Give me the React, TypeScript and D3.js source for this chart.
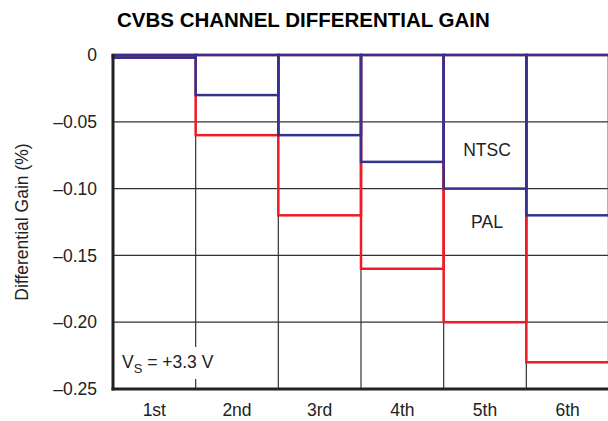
import React from "react";
import * as d3 from "d3";

const categories = ["1st", "2nd", "3rd", "4th", "5th", "6th"];
const ntscValues = [-0.002, -0.03, -0.06, -0.08, -0.1, -0.12];
const palValues = [-0.002, -0.06, -0.12, -0.16, -0.2, -0.23];
const yTicks = [0, -0.05, -0.1, -0.15, -0.2, -0.25];
const yTickLabels = ["0", "–0.05", "–0.10", "–0.15", "–0.20", "–0.25"];

const W = 608;
const H = 421;
const left = 113;
const right = 609;
const top = 55;
const bottom = 389;
const BLUE = "#35318f";
const RED = "#ee1c25";
const FONT = "'Liberation Sans', Arial, Helvetica, sans-serif";
const FS = 17.5;

export default function App() {
  const x = d3.scaleBand<string>().domain(categories).range([left, right]).padding(0);
  const y = d3.scaleLinear().domain([-0.25, 0]).range([bottom, top]);
  const bw = x.bandwidth();

  const bars = (vals: number[], color: string) =>
    categories.map((c, i) => (
      <rect
        key={c}
        x={x(c)!}
        y={y(0)}
        width={bw}
        height={y(vals[i]) - y(0)}
        fill="none"
        stroke={color}
        strokeWidth={2.5}
      />
    ));

  return (
    <svg
      width={W}
      height={H}
      style={{ position: "absolute", left: 0, top: 0, background: "#fff" }}
      fontFamily={FONT}
    >
      <rect x={0} y={0} width={W} height={H} fill="#fff" />
      <text x={117} y={27} fontSize={20.5} fontWeight="bold" fill="#000">
        CVBS CHANNEL DIFFERENTIAL GAIN
      </text>
      {/* grid */}
      {yTicks.slice(1, -1).map((t) => (
        <line key={t} x1={left} x2={W} y1={y(t)} y2={y(t)} stroke="#333" strokeWidth={1.2} />
      ))}
      {categories.slice(1).map((c) => (
        <line key={c} x1={x(c)!} x2={x(c)!} y1={top} y2={bottom} stroke="#333" strokeWidth={1.2} />
      ))}
      {/* V_S label background */}
      <rect x={118} y={347} width={106} height={32} fill="#fff" />
      <text x={122} y={368} fontSize={FS} fill="#222">
        V<tspan fontSize={13} dy={5}>S</tspan>
        <tspan dy={-5}> = +3.3 V</tspan>
      </text>
      {bars(palValues, RED)}
      {bars(ntscValues, BLUE)}
      {/* axes */}
      <line x1={left} x2={left} y1={top - 1} y2={bottom + 1.5} stroke="#222" strokeWidth={3} />
      <line x1={left - 1.5} x2={W} y1={bottom} y2={bottom} stroke="#222" strokeWidth={3} />
      {/* y ticks */}
      {yTicks.map((t, i) => (
        <text
          key={t}
          x={97}
          y={y(t)}
          dy="0.35em"
          textAnchor="end"
          fontSize={FS}
          fill="#222"
        >
          {yTickLabels[i]}
        </text>
      ))}
      {categories.map((c) => (
        <text
          key={c}
          x={x(c)! + bw / 2}
          y={410}
          dy="0.35em"
          textAnchor="middle"
          fontSize={FS}
          fill="#222"
        >
          {c}
        </text>
      ))}
      <text
        transform={`translate(22,${(top + bottom) / 2}) rotate(-90)`}
        textAnchor="middle"
        dy="0.35em"
        fontSize={FS}
        fill="#222"
      >
        Differential Gain (%)
      </text>
      <text x={487} y={150} dy="0.35em" textAnchor="middle" fontSize={FS} fill="#222">
        NTSC
      </text>
      <text x={487} y={222} dy="0.35em" textAnchor="middle" fontSize={FS} fill="#222">
        PAL
      </text>
    </svg>
  );
}
